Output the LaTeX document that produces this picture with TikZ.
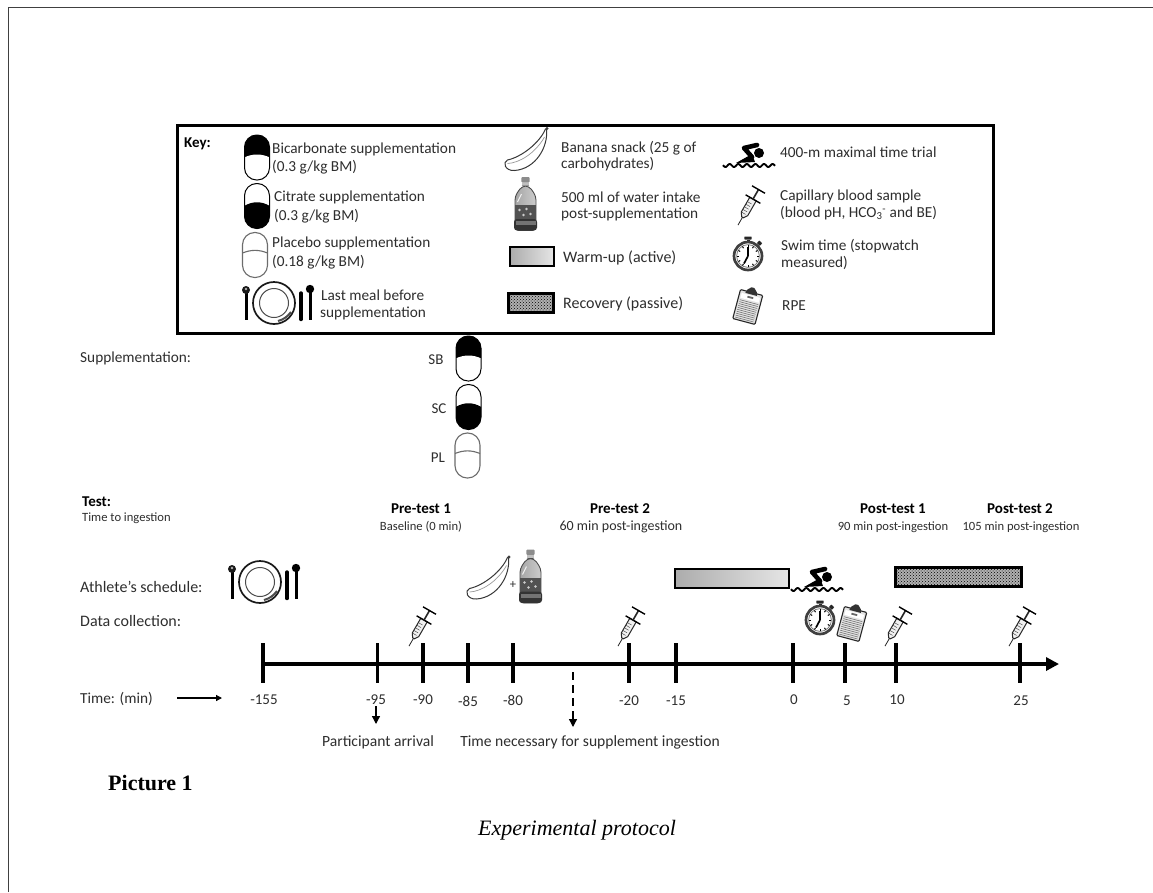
\documentclass[tikz,border=0pt]{standalone}
\usepackage{fontspec}
\setmainfont{Carlito}
\newfontfamily\serifpart{Liberation Serif}
\usetikzlibrary{patterns,arrows.meta,shadings}
\definecolor{ink}{gray}{0.18}
\tikzset{
  txt/.style={anchor=west,inner sep=0,text=ink,font=\fontsize{15.3}{17}\selectfont},
  ltxt/.style={anchor=west,inner sep=0,text=ink,font=\fontsize{16}{18}\selectfont},
  ctxt/.style={anchor=center,inner sep=0,text=ink,font=\fontsize{15}{17}\selectfont},
  wtxt/.style={anchor=center,inner sep=0,text=ink,font=\fontsize{15.6}{18}\selectfont},
  small/.style={anchor=center,inner sep=0,text=ink,font=\fontsize{12.6}{14}\selectfont},
  head/.style={anchor=center,inner sep=0,text=black,font=\fontsize{15}{17}\bfseries\selectfont},
  tick/.style={line width=3.8,black},
  warmbar/.style={draw=black,line width=2.6,left color=gray!65,right color=gray!20},
  recbar/.style={draw=black,line width=3,preaction={fill=gray!62},pattern=crosshatch dots,pattern color=black},
  pics/capdark/.style={code={
    \begin{scope}
      \clip[rounded corners=12.2] (-12.5,-22.5) rectangle (12.5,22.5);
      \fill[black] (-13,-23) rectangle (13,0) ;
      \fill[white] (-13,0) .. controls (-4,-4) and (4,-4) .. (13,0) -- (13,1) -- (-13,1) -- cycle;
    \end{scope}
    \draw[black,line width=1,rounded corners=12.2] (-12.5,-22.5) rectangle (12.5,22.5);
  }},
  pics/capdarklow/.style={code={
    \begin{scope}
      \clip[rounded corners=12.2] (-12.5,-22.5) rectangle (12.5,22.5);
      \fill[black] (-13,0) .. controls (-4,-5) and (4,-5) .. (13,0) -- (13,23) -- (-13,23) -- cycle;
    \end{scope}
    \draw[black,line width=1,rounded corners=12.2] (-12.5,-22.5) rectangle (12.5,22.5);
  }},
  pics/capplain/.style={code={
    \draw[gray!85!black,line width=1.1] (-12.5,-2) .. controls (-4,-5.5) and (4,-5.5) .. (12.5,-2);
    \draw[gray!85!black,line width=1.1,rounded corners=12.2] (-12.5,-22.5) rectangle (12.5,22.5);
  }},
  pics/meal/.style={code={
    \draw[black!90,line width=1.7] (0,0) circle (21);
    \draw[black!70,line width=1] (0,0) circle (14.5);
    \draw[black!70,line width=2] (4,18) .. controls (10,16.5) and (14,13) .. (17,9);
    \draw[black,line width=3] (-28,-11) -- (-28,17);
    \fill[black!90] (-28,-13) circle (4);
    \fill[gray!60] (-28,-14) circle (1.4);
    \draw[black,line width=3.4,line cap=round] (27,-10) -- (27,16.5);
    \draw[black,line width=3] (36,-12) -- (36,17);
    \fill[black] (36,-14) circle (4.2);
  }},
  pics/banana/.style={code={
    \draw[black!78,line width=1,fill=white] (19,-20) .. controls (21,-2) and (8,20) .. (-13,21.5)
      .. controls (-23,22) and (-25,13) .. (-20,11)
      .. controls (-6,8) and (12,-6) .. (18,-20) -- cycle;
    \draw[black!40,line width=.7] (-20,14.5) .. controls (-8,14) and (8,4) .. (17,-12);
    \fill[black!75] (19.5,-20.5) circle (1.7);
  }},
  pics/bottle/.style={code={
    \fill[black!45,rounded corners=1] (-4.2,-27) rectangle (4.2,-21.5);
    \fill[black!25] (-3.4,-21.5) rectangle (3.4,-18);
    \draw[black!70,line width=.9,left color=gray!70,right color=gray!40,rounded corners=4] (-3.5,-18) -- (-10.5,-8) -- (-10.5,26.5) -- (10.5,26.5) -- (10.5,-8) -- (3.5,-18) -- cycle;
    \fill[black!68] (-10.5,1) rectangle (10.5,16);
    \fill[black!80,rounded corners=3] (-11.5,15) rectangle (11.5,26.5);
    \fill[black!55] (-10,17) rectangle (10,21);
    \draw[gray!10,line width=1] (-4,-10) -- (-8,-2);
    \fill[gray!40] (-6,6) circle (1.3) (1,5) circle (1.3) (5,10) circle (1.3) (-2,11) circle (1.3);
  }},
  pics/syringe/.style={code={
    \draw[black!85,line width=.8] (0,22) -- (0,13);
    \draw[black!85,line width=1,fill=gray!12] (-3.7,-8) -- (-3.7,9) -- (-1,13) -- (1,13) -- (3.7,9) -- (3.7,-8) -- cycle;
    \foreach \q in {-3,0,3,6,9}{\draw[black!70,line width=.5] (-3.5,\q) -- (1.2,\q);}
    \draw[black,line width=1.4] (-8.5,-8) -- (8.5,-8);
    \draw[black!85,line width=1.6] (0,-8) -- (0,-19);
    \draw[black,line width=1.4] (-7.5,-19) -- (7.5,-19);
  }},
  pics/swimmer/.style={code={
    \draw[black,line width=4.6,line join=round,line cap=round] (8,-10) -- (-5,-7) -- (3,2);
    \fill[black] (3,-1) -- (6,7) -- (-13,8) -- cycle;
    \fill[black] (10,-2) circle (5);
    \draw[black,line width=1.9] plot[domain=-26:26,samples=70] (\x,{10.5+1.5*sin(\x*42)});
  }},
  pics/watch/.style={code={
    \fill[black!85,rounded corners=.5] (-3.6,-19.5) rectangle (3.6,-16.5);
    \fill[black!85] (-1.5,-16.5) rectangle (1.5,-13);
    \fill[black!85,rotate=-42] (-2,-19) rectangle (2,-15.5);
    \draw[black!75,line width=2.7,fill=white] (0,0) circle (14);
    \draw[black!50,line width=.8] (0,0) circle (11.4);
    \foreach \a in {0,30,...,330}{\draw[black,line width=1] (\a:9) -- (\a:11);}
    \draw[black,line width=1.7] (0,0) -- (0,-9.5);
    \draw[black,line width=1.7] (0,0) -- (-4,7.5);
  }},
  pics/board/.style={code={
    \draw[black!85,line width=1.1,fill=gray!22,rounded corners=1] (-11.5,-14) rectangle (11.5,16);
    \foreach \q in {-4,-2,...,14}{\draw[black!55,line width=.6] (-9.5,\q) -- (9.5,\q);}
    \fill[white] (-9.5,-11) rectangle (9.5,-6);
    \fill[black!80] (-5,-15.5) -- (-1.5,-19) -- (1.5,-19) -- (5,-15.5) -- (6,-12) -- (-6,-12) -- cycle;
    \fill[black!60] (-3,-9.8) rectangle (3,-8);
  }},
}
\begin{document}
\begin{tikzpicture}[x=1pt,y=-1pt]
\useasboundingbox (0,0) rectangle (1153,892);
\fill[white] (0,0) rectangle (1153,892);
\draw[black!75,line width=1] (8,892) -- (8,7.5) -- (1153,7.5);
% key box
\node[draw=black,line width=3,minimum width=816pt,minimum height=208pt,inner sep=0,anchor=north west] (keybox) at (175.5,123.5) {};
\node[head,anchor=west] (keyt) at (184,144) {Key:};
\pic at (257,157.5) {capdark};
\pic at (257,206) {capdarklow};
\pic at (255,255) {capplain};
\pic at (274,303) {meal};
\node[txt] (k1a) at (272,149) {Bicarbonate supplementation};
\node[txt] (k1b) at (272,167) {(0.3 g/kg BM)};
\node[txt] (k2a) at (274,197) {Citrate supplementation};
\node[txt] (k2b) at (274,216) {(0.3 g/kg BM)};
\node[txt] (k3a) at (272,243) {Placebo supplementation};
\node[txt] (k3b) at (272,262) {(0.18 g/kg BM)};
\node[txt] (k4a) at (321,295) {Last meal before};
\node[txt] (k4b) at (320,313) {supplementation};
\pic at (527.5,149) {banana};
\pic at (525.5,204) {bottle};
\node[warmbar,minimum width=44pt,minimum height=19pt,inner sep=0] (kwarm) at (532,256.5) {};
\node[recbar,minimum width=45pt,minimum height=19pt,inner sep=0] (krec) at (530.5,302.5) {};
\node[txt] (k5a) at (561,148) {Banana snack (25 g of};
\node[txt] (k5b) at (561,164) {carbohydrates)};
\node[txt] (k6a) at (561,197) {500 ml of water intake};
\node[txt] (k6b) at (561,214) {post-supplementation};
\node[ltxt] (k7) at (563,258) {Warm-up (active)};
\node[ltxt] (k8) at (563,304) {Recovery (passive)};
\pic at (749,155) {swimmer};
\pic[rotate=-30] at (749,206) {syringe};
\pic at (748,256) {watch};
\pic[rotate=-15] at (748,306) {board};
\node[txt] (k9) at (780,152) {400-m maximal time trial};
\node[txt] (k10a) at (780,196) {Capillary blood sample};
\node[txt] (k10b) at (780,213) {(blood pH, HCO\textsubscript{3}\textsuperscript{-} and BE)};
\node[txt] (k11a) at (781,246) {Swim time (stopwatch};
\node[txt] (k11b) at (781,263) {measured)};
\node[txt] (k12) at (782,306) {RPE};
% supplementation
\node[txt] (sup) at (80,358) {Supplementation:};
\node[ctxt] (sb) at (436,360) {SB};
\node[ctxt] (sc) at (439,409) {SC};
\node[ctxt] (pl) at (438,458) {PL};
\pic at (468.5,358.5) {capdark};
\pic at (468.5,407) {capdarklow};
\pic at (467.5,455.5) {capplain};
% test headers
\node[head,anchor=west] (test) at (82,502) {Test:};
\node[small,anchor=west] (tti) at (82,518) {Time to ingestion};
\node[head] (pre1) at (421,509) {Pre-test 1};
\node[small] (pre1b) at (421,527) {Baseline (0 min)};
\node[head] (pre2) at (620,509) {Pre-test 2};
\node[small,font=\fontsize{14}{16}\selectfont] (pre2b) at (621,527) {60 min post-ingestion};
\node[head] (post1) at (893,509) {Post-test 1};
\node[small] (post1b) at (893,527) {90 min post-ingestion};
\node[head] (post2) at (1020,509) {Post-test 2};
\node[small] (post2b) at (1021,527) {105 min post-ingestion};
% schedule
\node[ltxt] (ath) at (80,587) {Athlete's schedule:};
\node[ltxt] (dat) at (80,621) {Data collection:};
\pic at (260,582) {meal};
\pic at (489.5,577.5) {banana};
\node[small] (plus) at (513,585) {+};
\pic at (530.5,576.5) {bottle};
\node[warmbar,minimum width=114pt,minimum height=19pt,inner sep=0] (warm) at (732,578.5) {};
\node[recbar,minimum width=126pt,minimum height=19pt,inner sep=0] (rec) at (958,577) {};
\pic at (817,579) {swimmer};
\pic[rotate=-30] at (420,627) {syringe};
\pic[rotate=-30] at (629,627) {syringe};
\pic[rotate=-30] at (896,627) {syringe};
\pic[rotate=-30] at (1020,627) {syringe};
\pic at (820,620) {watch};
\pic[rotate=-15] at (852,623) {board};
% axis
\coordinate (axs) at (263,664);
\coordinate (axe) at (1059,664);
\draw[black,line width=4.4,-{Triangle[length=13pt,width=13pt]}] (axs) -- (axe);
\foreach \tx in {263,377.5,423,468,513,629,676,793,845,896,1020}{
  \draw[tick] (\tx,643) -- (\tx,683);
}
% time labels
\node[txt] (time) at (80,699) {Time: (min)};
\coordinate (ta) at (177,698);
\coordinate (tb) at (222,698);
\draw[black,line width=1.3,-{Triangle[length=6pt,width=6pt]}] (ta) -- (tb);
\node[ctxt] (t1) at (264,700) {-155};
\node[ctxt] (t2) at (376,700) {-95};
\node[ctxt] (t3) at (423,700) {-90};
\node[ctxt] (t4) at (468,701) {-85};
\node[ctxt] (t5) at (513,700) {-80};
\node[ctxt] (t6) at (629,701) {-20};
\node[ctxt] (t7) at (676,701) {-15};
\node[ctxt] (t8) at (794,700) {0};
\node[ctxt] (t9) at (847,701) {5};
\node[ctxt] (t10) at (897,700) {10};
\node[ctxt] (t11) at (1021,701) {25};
\coordinate (a1) at (376,706);
\coordinate (a2) at (376,724);
\draw[black,line width=1.3,-{Triangle[length=8pt,width=8pt]}] (a1) -- (a2);
\coordinate (d1) at (573,672);
\coordinate (d2) at (573,727);
\draw[black,line width=1.3,dashed,dash pattern=on 8pt off 5pt,-{Triangle[length=8pt,width=8pt]}] (d1) -- (d2);
\node[wtxt] (pa) at (378,742) {Participant arrival};
\node[wtxt] (tn) at (590,742) {Time necessary for supplement ingestion};
% caption
\node[anchor=west,inner sep=0,text=black,font=\serifpart\fontsize{22}{24}\bfseries\selectfont] (pic1) at (108,783) {Picture 1};
\node[anchor=center,inner sep=0,text=black,font=\serifpart\fontsize{22}{24}\itshape\selectfont] (exp) at (577,830) {Experimental protocol};
\end{tikzpicture}
\end{document}
